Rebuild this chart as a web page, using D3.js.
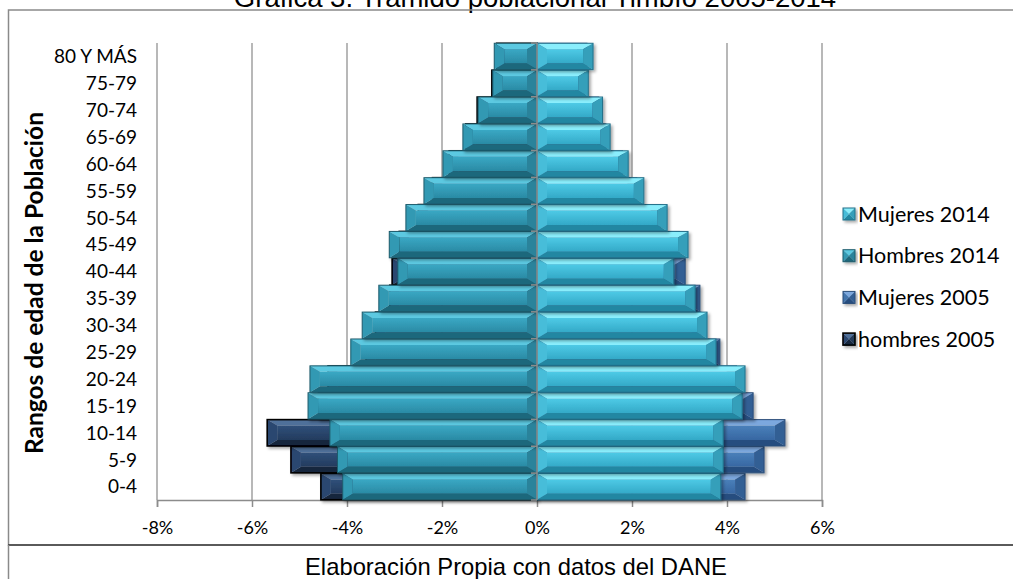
<!DOCTYPE html>
<html><head><meta charset="utf-8">
<script src="https://cdn.jsdelivr.net/npm/d3@7/dist/d3.min.js"></script>
<style>
html,body{margin:0;padding:0;background:#fff;}
svg{display:block;}
</style></head>
<body>
<svg id="chart" width="1013" height="579"></svg>
<script>
// ---- data ----
const categories = ["0-4","5-9","10-14","15-19","20-24","25-29","30-34","35-39","40-44","45-49","50-54","55-59","60-64","65-69","70-74","75-79","80 Y MÁS"];
const hombres2005 = [-4.55,-5.18,-5.68,-4.60,-4.40,-3.60,-3.40,-3.10,-3.05,-2.90,-2.50,-2.20,-1.85,-1.50,-1.26,-0.95,-0.85];
const mujeres2005 = [4.38,4.78,5.22,4.55,4.20,3.85,3.45,3.43,3.12,3.00,2.60,2.10,1.80,1.45,1.30,1.00,1.05];
const hombres2014 = [-4.09,-4.20,-4.36,-4.82,-4.78,-3.92,-3.68,-3.33,-2.93,-3.11,-2.76,-2.38,-1.98,-1.56,-1.24,-0.93,-0.90];
const mujeres2014 = [3.87,3.92,3.92,4.32,4.38,3.77,3.58,3.33,2.88,3.18,2.74,2.25,1.92,1.54,1.38,1.08,1.18];
const xTicks = [-8,-6,-4,-2,0,2,4,6];
const legendLabels = ["Mujeres 2014","Hombres 2014","Mujeres 2005","hombres 2005"];
const titleText = "Gráfica 3. Tramido poblacional Timbío 2005-2014";
const yTitle = "Rangos de edad de la Población";
const footerText = "Elaboración Propia con datos del DANE";

// ---- styles ----
const styles = {
  h14:{top:'#5cc9e1',c0:'#3aa8c4',c1:'#2a8aa4',bottom:'#1e687c',left:'#3399b3',right:'#2a839b',stroke:'#1d5b6c',sw:1},
  m14:{top:'#8aeefc',c0:'#4ecae6',c1:'#33a9c7',bottom:'#2487a2',left:'#46bdd9',right:'#349fba',stroke:'#23708a',sw:1},
  m05:{top:'#7ca8de',c0:'#4a80ba',c1:'#3767a2',bottom:'#274e7f',left:'#4374ad',right:'#335e94',stroke:'#2a4d78',sw:1},
  h05:{top:'#4f6f9a',c0:'#30507a',c1:'#233b5e',bottom:'#16263d',left:'#2b4770',right:'#203757',stroke:'#000',sw:1.6}
};

const svg = d3.select('#chart');
const defs = svg.append('defs');
Object.entries(styles).forEach(([k,s])=>{
  const g = defs.append('linearGradient').attr('id','g_'+k).attr('x1',0).attr('y1',0).attr('x2',0).attr('y2',1);
  g.append('stop').attr('offset','0%').attr('stop-color',s.c0);
  g.append('stop').attr('offset','100%').attr('stop-color',s.c1);
});
const f = defs.append('filter').attr('id','shadow').attr('x','-10%').attr('y','-30%').attr('width','130%').attr('height','180%');
f.append('feDropShadow').attr('dx',2).attr('dy',2).attr('stdDeviation',1.6).attr('flood-color','#000').attr('flood-opacity',0.35);

// ---- frame ----
const FONT = 'Lato, "Open Sans", sans-serif';
svg.append('text').attr('x',535).attr('y',7).attr('text-anchor','middle')
  .style('font-family','"Liberation Sans", Arial, sans-serif').style('font-size','27.5px').attr('fill','#000').text(titleText);
svg.append('rect').attr('x',8.5).attr('y',10).attr('width',1030).attr('height',535)
  .attr('fill','none').attr('stroke','#8a8a8a').attr('stroke-width',1.5);
svg.append('line').attr('x1',8).attr('x2',1013).attr('y1',545).attr('y2',545).attr('stroke','#404040').attr('stroke-width',1.5);
svg.append('line').attr('x1',8.5).attr('x2',8.5).attr('y1',545).attr('y2',579).attr('stroke','#8a8a8a').attr('stroke-width',1.5);
svg.append('text').attr('x',516).attr('y',575).attr('text-anchor','middle')
  .style('font-family','"Liberation Sans", Arial, sans-serif').style('font-size','23.8px').attr('fill','#000').text(footerText);

// ---- scales ----
const x = d3.scaleLinear().domain([-8,6]).range([157,822]);
const y = d3.scaleBand().domain(categories.slice().reverse()).range([43,500]).paddingInner(0.02).paddingOuter(0.01);

// gridlines
svg.append('g').selectAll('line').data(xTicks).join('line')
  .attr('x1',d=>x(d)).attr('x2',d=>x(d)).attr('y1',43).attr('y2',500)
  .attr('stroke','#a0a0a0').attr('stroke-width',1.5);

// x axis
const xAxis = svg.append('g').attr('transform','translate(0,500)')
  .call(d3.axisBottom(x).tickValues(xTicks).tickSize(7).tickPadding(14).tickFormat(d=>d+'%'));
xAxis.select('.domain').attr('stroke','#8c8c8c').attr('stroke-width',1.5);
xAxis.selectAll('.tick line').attr('stroke','#8c8c8c').attr('stroke-width',1.5);
xAxis.selectAll('.tick text').style('font-family',FONT).style('font-size','18px').attr('fill','#000');

// category labels
svg.append('g').selectAll('text').data(categories).join('text')
  .attr('x',137).attr('y',d=>y(d)+y.bandwidth()/2).attr('dy','0.36em').attr('text-anchor','end')
  .style('font-family',FONT).style('font-size','19px').attr('fill','#000').text(d=>d);

// y title
svg.append('text').attr('transform','translate(43,283) rotate(-90)').attr('text-anchor','middle')
  .style('font-family',FONT).style('font-size','24.5px').style('font-weight','bold').attr('fill','#000').text(yTitle);

// ---- bevel bars ----
function faces(x0,x1,y0,y1){
  const w = x1-x0, h = y1-y0;
  const bx = Math.min(10, w/2), by = Math.min(6, h/2);
  const P = pts => 'M'+pts.map(p=>p.join(',')).join('L')+'Z';
  return [
    {k:'center', d:P([[x0+bx,y0+by],[x1-bx,y0+by],[x1-bx,y1-by],[x0+bx,y1-by]])},
    {k:'top', d:P([[x0,y0],[x1,y0],[x1-bx,y0+by],[x0+bx,y0+by]])},
    {k:'bottom', d:P([[x0,y1],[x1,y1],[x1-bx,y1-by],[x0+bx,y1-by]])},
    {k:'left', d:P([[x0,y0],[x0+bx,y0+by],[x0+bx,y1-by],[x0,y1]])},
    {k:'right', d:P([[x1,y0],[x1-bx,y0+by],[x1-bx,y1-by],[x1,y1]])}
  ];
}
function drawBevel(g, key, x0,x1,y0,y1){
  const s = styles[key];
  const grp = g.append('g').attr('filter','url(#shadow)');
  grp.selectAll('path').data(faces(x0,x1,y0,y1)).join('path')
    .attr('d',d=>d.d)
    .attr('fill',d=>d.k==='center'?'url(#g_'+key+')':s[d.k]);
  grp.append('rect').attr('x',x0).attr('y',y0).attr('width',x1-x0).attr('height',y1-y0)
    .attr('fill','none').attr('stroke',s.stroke).attr('stroke-width',s.sw);
}
const seriesList = [
  {key:'h05', vals:hombres2005},
  {key:'m05', vals:mujeres2005},
  {key:'h14', vals:hombres2014},
  {key:'m14', vals:mujeres2014}
];
const barsG = svg.append('g');
seriesList.forEach(sr=>{
  const sg = barsG.append('g');
  categories.forEach((c,i)=>{
    const v = sr.vals[i];
    drawBevel(sg, sr.key, x(Math.min(0,v)), x(Math.max(0,v)), y(c), y(c)+y.bandwidth());
  });
});

// zero axis with ticks at band boundaries
svg.append('line').attr('x1',x(0)).attr('x2',x(0)).attr('y1',43).attr('y2',500)
  .attr('stroke','#8c8c8c').attr('stroke-width',1.5);
const bounds = categories.map(c=>y(c)-y.step()*y.paddingInner()/2).concat([500]);
svg.append('g').selectAll('line').data(bounds).join('line')
  .attr('x1',x(0)-6).attr('x2',x(0)).attr('y1',d=>d).attr('y2',d=>d)
  .attr('stroke','#8c8c8c').attr('stroke-width',1.5);

// ---- legend ----
const legKeys = ['m14','h14','m05','h05'];
const lg = svg.append('g');
legendLabels.forEach((lab,i)=>{
  const cy = 214 + i*41.7;
  drawBevel(lg, legKeys[i], 843, 855, cy-6, cy+6);
  lg.append('text').attr('x',858).attr('y',cy).attr('dy','0.36em')
    .style('font-family',FONT).style('font-size','21.5px').attr('fill','#000').text(lab);
});
</script>
</body></html>
